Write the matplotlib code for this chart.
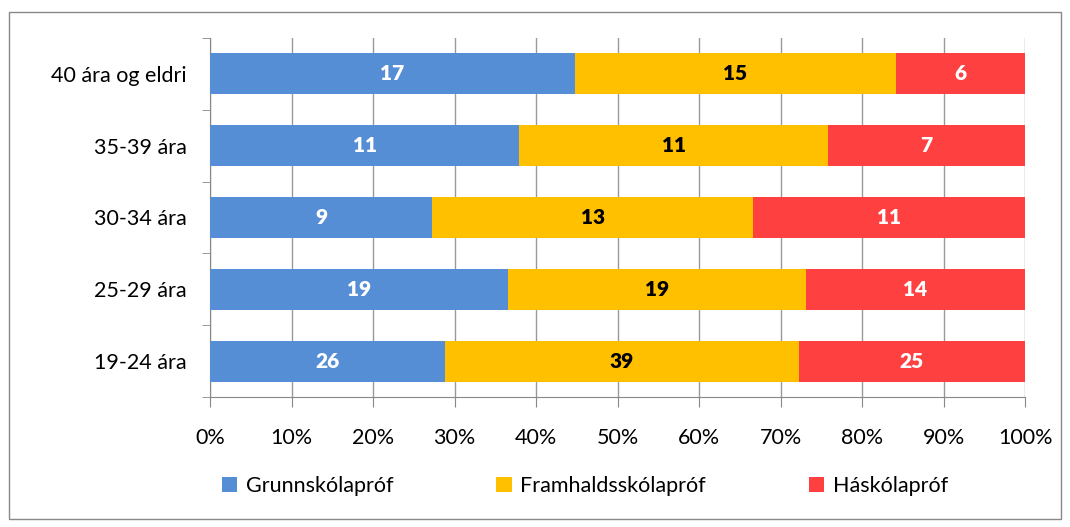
import numpy as np
import matplotlib.pyplot as plt
from matplotlib.patches import Rectangle

plt.rcParams['font.family'] = ['Lato', 'DejaVu Sans']

# === DATA ===
categories = ["19-24 ára", "25-29 ára", "30-34 ára", "35-39 ára", "40 ára og eldri"]
series_names = ["Grunnskólapróf", "Framhaldsskólapróf", "Háskólapróf"]
grunn = [26, 19, 9, 11, 17]
framh = [39, 19, 13, 11, 15]
hask = [25, 14, 11, 7, 6]
colors = ["#558ED5", "#FFC000", "#FF4040"]
label_colors = ["white", "black", "white"]

counts = np.array([grunn, framh, hask], dtype=float)
shares = counts / counts.sum(axis=0) * 100

fig = plt.figure(figsize=(10.7, 5.27), dpi=100)
ax = fig.add_axes([0.1963, 0.2467, 0.7617, 0.6813])

# outer frame
fig.patches.append(Rectangle((0.008, 0.015), 0.984, 0.962, transform=fig.transFigure,
                             fill=False, edgecolor="#888888", linewidth=1))

y = np.arange(len(categories))
left = np.zeros(len(categories))
for i in range(3):
    bars = ax.barh(y, shares[i], left=left, height=0.57, color=colors[i],
                   label=series_names[i], zorder=3)
    for j, b in enumerate(bars):
        ax.text(left[j] + shares[i][j] / 2, y[j], f"{int(counts[i][j])}",
                ha="center", va="center", color=label_colors[i],
                fontsize=15, fontweight="heavy", zorder=4)
    left += shares[i]

ax.set_xlim(0, 100)
ax.set_ylim(-0.5, len(categories) - 0.5)
ax.set_xticks(np.arange(0, 101, 10))
ax.set_xticklabels([f"{v}%" for v in range(0, 101, 10)], fontsize=15.5)
ax.set_yticks(y)
ax.set_yticklabels(categories, fontsize=15.5)
ax.set_yticks(np.arange(-0.5, len(categories), 1), minor=True)
ax.tick_params(axis="y", which="major", length=0, pad=17)
ax.tick_params(axis="y", which="minor", length=6, color="#888888", direction="out")
ax.tick_params(axis="x", length=7, color="#888888", direction="out", pad=15)
ax.grid(axis="x", color="#999999", linewidth=1, zorder=0)

for s in ["top", "right"]:
    ax.spines[s].set_visible(False)
for s in ["left", "bottom"]:
    ax.spines[s].set_color("#888888")

ax.legend(loc="upper center", bbox_to_anchor=(0.46, -0.165), ncol=3, frameon=False,
          fontsize=15.5, handlelength=0.7, handleheight=0.7, columnspacing=4.8,
          handletextpad=0.4)

fig.savefig("out.png", dpi=100)
